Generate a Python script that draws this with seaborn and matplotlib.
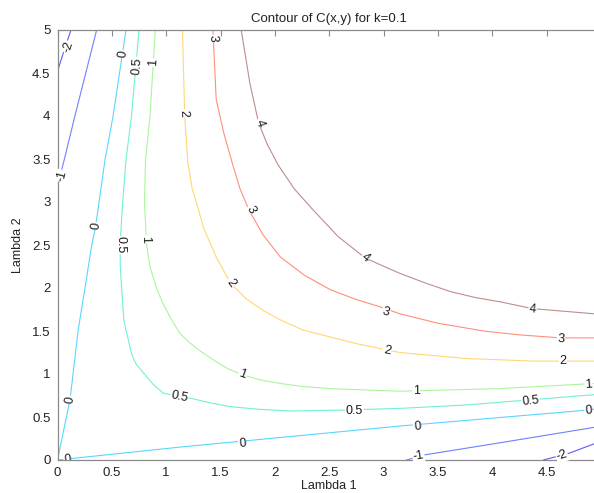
import matplotlib
matplotlib.use("Agg")
import matplotlib.pyplot as plt
import seaborn as sns
from matplotlib.ticker import FuncFormatter

# ---------------- data ----------------
levels = [-2, -1, 0, 0.5, 1, 2, 3, 4]
level_colors = ['#5c5cff', '#7080ff', '#5ad6ff', '#72f0d6', '#aaf59c', '#ffd874', '#ff8e7c', '#c08c8c']

# contour -2 (two pieces)
cm2a_x = [0.0, 0.06, 0.124]
cm2a_y = [4.52, 4.76, 5.0]
cm2b_x = [4.47, 4.71, 4.94, 5.0]
cm2b_y = [0.0, 0.08, 0.19, 0.22]
# contour -1 (two pieces)
cm1a_x = [0.0, 0.054, 0.16, 0.26, 0.36]
cm1a_y = [3.2, 3.45, 4.0, 4.5, 5.0]
cm1b_x = [3.21, 3.38, 4.07, 4.94, 5.0]
cm1b_y = [0.0, 0.06, 0.20, 0.38, 0.39]
# contour 0
c0_x = [0.63, 0.51, 0.437, 0.35, 0.315, 0.253, 0.19, 0.143, 0.115, 0.0, 1.127, 3.15, 4.87, 5.0]
c0_y = [5.0, 3.99, 3.49, 2.71, 2.5, 2.0, 1.51, 1.0, 0.7, 0.0, 0.15, 0.395, 0.58, 0.60]
# contour 0.5
c05_x = [0.75, 0.68, 0.63, 0.60, 0.575, 0.578, 0.59, 0.61, 0.63, 0.655, 0.68, 0.72, 0.82, 0.88,
         0.97, 1.05, 1.12, 1.22, 1.40, 1.59, 1.85, 2.14, 2.6, 3.15, 3.76, 4.35, 4.94, 5.0]
c05_y = [5.0, 3.99, 3.49, 3.0, 2.5, 2.25, 2.0, 1.63, 1.51, 1.38, 1.24, 1.12, 0.97, 0.88,
         0.78, 0.755, 0.73, 0.72, 0.665, 0.62, 0.59, 0.57, 0.58, 0.60, 0.64, 0.70, 0.76, 0.77]
# contour 1
c1_x = [0.90, 0.85, 0.81, 0.80, 0.82, 0.85, 0.91, 0.97, 1.05, 1.127, 1.21, 1.31, 1.45, 1.57,
        1.70, 1.87, 2.05, 2.25, 2.51, 3.15, 4.07, 4.94, 5.0]
c1_y = [5.0, 3.99, 3.49, 3.0, 2.5, 2.25, 2.0, 1.82, 1.63, 1.47, 1.37, 1.27, 1.15, 1.06,
        0.99, 0.93, 0.89, 0.855, 0.83, 0.80, 0.83, 0.89, 0.90]
# contour 2
c2_x = [1.15, 1.17, 1.20, 1.24, 1.30, 1.34, 1.46, 1.59, 1.73, 1.89, 2.05, 2.26, 2.51, 2.76,
        3.03, 3.15, 3.76, 4.38, 4.94, 5.0]
c2_y = [5.0, 4.0, 3.45, 3.15, 2.9, 2.71, 2.36, 2.06, 1.88, 1.74, 1.63, 1.51, 1.43, 1.35,
        1.28, 1.25, 1.18, 1.15, 1.15, 1.15]
# contour 3
c3_x = [1.43, 1.46, 1.53, 1.62, 1.68, 1.76, 1.89, 2.05, 2.27, 2.51, 2.74, 2.97, 3.15, 3.50,
        3.92, 4.25, 4.63, 4.94, 5.0]
c3_y = [5.0, 4.19, 3.80, 3.40, 3.15, 2.91, 2.62, 2.36, 2.15, 1.98, 1.87, 1.78, 1.70, 1.59,
        1.50, 1.455, 1.42, 1.42, 1.42]
# contour 4
c4_x = [1.69, 1.77, 1.85, 1.93, 2.03, 2.18, 2.35, 2.58, 2.83, 2.97, 3.15, 3.38, 3.61, 3.84,
        4.07, 4.37, 4.94, 5.0]
c4_y = [5.0, 4.38, 3.92, 3.67, 3.43, 3.15, 2.91, 2.60, 2.35, 2.27, 2.17, 2.06, 1.96, 1.89,
        1.84, 1.76, 1.70, 1.69]

# inline labels: text, x, y, rotation (deg)
lab_text = ['-2', '-1', '0', '0.5', '1', '2', '3', '4',
            '0', '0.5', '1', '2', '3', '4',
            '0', '0.5', '1', '2', '3', '4', '3', '2', '1', '0.5', '0.5', '1',
            '0', '0', '0', '-1', '-2', '0']
lab_x = [0.10, 0.045, 0.60, 0.73, 0.88, 1.16, 1.43, 1.86,
         0.355, 0.58, 0.81, 1.59, 1.78, 2.83,
         0.115, 1.12, 1.70, 3.03, 3.02, 4.37, 4.63, 4.65, 3.30, 2.73, 4.35, 4.885,
         1.70, 3.31, 4.885, 3.32, 4.64, 0.09]
lab_y = [4.80, 3.30, 4.72, 4.58, 4.62, 4.03, 4.90, 3.92,
         2.72, 2.50, 2.57, 2.06, 2.91, 2.35,
         0.70, 0.73, 0.99, 1.27, 1.72, 1.75, 1.41, 1.15, 0.80, 0.575, 0.69, 0.88,
         0.19, 0.39, 0.575, 0.05, 0.05, 0.0]
lab_rot = [72, 75, 81, 85, 86, -88, -87, -71,
           80, -90, -89, -54, -63, -39,
           80, -12, -20, -12, -17, -6, -3, 0, 0, 0, 6, 4,
           5, 5, 5, 10, 18, 6]

x_ticks = [0, 0.5, 1, 1.5, 2, 2.5, 3, 3.5, 4, 4.5, 5]
x_tick_labels = ['0', '0.5', '1', '1.5', '2', '2.5', '3', '3.5', '4', '4.5', '']
y_ticks = [0, 0.5, 1, 1.5, 2, 2.5, 3, 3.5, 4, 4.5, 5]

# ---------------- plotting ----------------
sns.set_style("white")
plt.rcParams['font.family'] = ['Liberation Sans', 'DejaVu Sans']

pieces = [
    (cm2a_x, cm2a_y, 0), (cm2b_x, cm2b_y, 0),
    (cm1a_x, cm1a_y, 1), (cm1b_x, cm1b_y, 1),
    (c0_x, c0_y, 2), (c05_x, c05_y, 3), (c1_x, c1_y, 4),
    (c2_x, c2_y, 5), (c3_x, c3_y, 6), (c4_x, c4_y, 7),
]

fig = plt.figure(figsize=(5.94, 4.93), dpi=100)
W, H = 594.0, 493.0
ax = fig.add_axes([57.5 / W, 33 / H, 543.5 / W, 430 / H])

for xs, ys, li in pieces:
    sns.lineplot(x=xs, y=ys, sort=False, estimator=None, color=level_colors[li],
                 linewidth=0.8, ax=ax, legend=False)

for t, x, y, r in zip(lab_text, lab_x, lab_y, lab_rot):
    clip = (t == '0' and y == 0.0)
    ax.text(x, y, t, rotation=r, rotation_mode='anchor', ha='center', va='center',
            fontsize=9, color='#1a1a1a', clip_on=clip, zorder=5,
            bbox=dict(boxstyle='square,pad=0.05', facecolor='white', edgecolor='none'))

ax.set_xlim(0, 5)
ax.set_ylim(0, 5)
ax.set_xticks(x_ticks)
ax.set_xticklabels(x_tick_labels)
ax.set_yticks(y_ticks)
ax.yaxis.set_major_formatter(FuncFormatter(lambda v, p: ('%g' % v)))
ax.tick_params(direction='in', top=True, right=True, length=4, width=0.8,
               color='#8a8a8a', labelsize=9.5, labelcolor='#222222', pad=5)
for s in ax.spines.values():
    s.set_color('#8a8a8a')
    s.set_linewidth(0.9)

ax.set_title('Contour of C(x,y) for k=0.1', fontsize=9.5, color='#222222', pad=6)
ax.set_xlabel('Lambda 1', fontsize=9, color='#222222', labelpad=1)
ax.set_ylabel('Lambda 2', fontsize=9, color='#222222', labelpad=6)

fig.savefig('out.png', dpi=100, facecolor='white')
